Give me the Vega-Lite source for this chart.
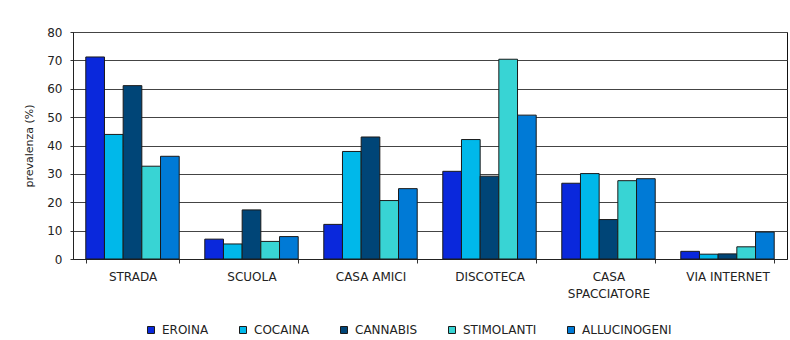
{
  "$schema": "https://vega.github.io/schema/vega-lite/v6.json",
  "width": 714,
  "height": 227,
  "autosize": "none",
  "padding": {"left": 73, "top": 32, "right": 3, "bottom": 81},
  "background": "white",
  "data": {
    "values": [
      {"luogo": "STRADA", "sostanza": "EROINA", "v": 71.2},
      {"luogo": "STRADA", "sostanza": "COCAINA", "v": 43.9},
      {"luogo": "STRADA", "sostanza": "CANNABIS", "v": 61.1},
      {"luogo": "STRADA", "sostanza": "STIMOLANTI", "v": 32.7},
      {"luogo": "STRADA", "sostanza": "ALLUCINOGENI", "v": 36.2},
      {"luogo": "SCUOLA", "sostanza": "EROINA", "v": 7.0},
      {"luogo": "SCUOLA", "sostanza": "COCAINA", "v": 5.3},
      {"luogo": "SCUOLA", "sostanza": "CANNABIS", "v": 17.3},
      {"luogo": "SCUOLA", "sostanza": "STIMOLANTI", "v": 6.2},
      {"luogo": "SCUOLA", "sostanza": "ALLUCINOGENI", "v": 7.9},
      {"luogo": "CASA AMICI", "sostanza": "EROINA", "v": 12.2},
      {"luogo": "CASA AMICI", "sostanza": "COCAINA", "v": 37.9},
      {"luogo": "CASA AMICI", "sostanza": "CANNABIS", "v": 43.0},
      {"luogo": "CASA AMICI", "sostanza": "STIMOLANTI", "v": 20.6},
      {"luogo": "CASA AMICI", "sostanza": "ALLUCINOGENI", "v": 24.8},
      {"luogo": "DISCOTECA", "sostanza": "EROINA", "v": 30.9},
      {"luogo": "DISCOTECA", "sostanza": "COCAINA", "v": 42.1},
      {"luogo": "DISCOTECA", "sostanza": "CANNABIS", "v": 29.2},
      {"luogo": "DISCOTECA", "sostanza": "STIMOLANTI", "v": 70.4},
      {"luogo": "DISCOTECA", "sostanza": "ALLUCINOGENI", "v": 50.7},
      {"luogo": "CASA SPACCIATORE", "sostanza": "EROINA", "v": 26.7},
      {"luogo": "CASA SPACCIATORE", "sostanza": "COCAINA", "v": 30.1},
      {"luogo": "CASA SPACCIATORE", "sostanza": "CANNABIS", "v": 13.9},
      {"luogo": "CASA SPACCIATORE", "sostanza": "STIMOLANTI", "v": 27.6},
      {"luogo": "CASA SPACCIATORE", "sostanza": "ALLUCINOGENI", "v": 28.3},
      {"luogo": "VIA INTERNET", "sostanza": "EROINA", "v": 2.7},
      {"luogo": "VIA INTERNET", "sostanza": "COCAINA", "v": 1.7},
      {"luogo": "VIA INTERNET", "sostanza": "CANNABIS", "v": 1.8},
      {"luogo": "VIA INTERNET", "sostanza": "STIMOLANTI", "v": 4.3},
      {"luogo": "VIA INTERNET", "sostanza": "ALLUCINOGENI", "v": 9.5}
    ]
  },
  "mark": {"type": "bar", "stroke": "#1a1a1a", "strokeWidth": 1},
  "encoding": {
    "x": {
      "field": "luogo",
      "type": "nominal",
      "sort": ["STRADA", "SCUOLA", "CASA AMICI", "DISCOTECA", "CASA SPACCIATORE", "VIA INTERNET"],
      "scale": {"paddingInner": 0.215, "paddingOuter": 0.1075},
      "axis": {
        "title": null,
        "labelAngle": 0,
        "labelExpr": "datum.value == 'CASA SPACCIATORE' ? ['CASA', 'SPACCIATORE'] : datum.value",
        "tickBand": "extent",
        "tickSize": 4,
        "tickColor": "#333",
        "domainColor": "#222",
        "labelFont": "DejaVu Sans",
        "labelFontSize": 12,
        "labelColor": "#222",
        "labelPadding": 8,
        "labelLineHeight": 17
      }
    },
    "xOffset": {
      "field": "sostanza",
      "type": "nominal",
      "sort": ["EROINA", "COCAINA", "CANNABIS", "STIMOLANTI", "ALLUCINOGENI"],
      "scale": {"paddingInner": 0, "paddingOuter": 0}
    },
    "y": {
      "field": "v",
      "type": "quantitative",
      "scale": {"domain": [0, 80]},
      "axis": {
        "title": "prevalenza (%)",
        "titleFont": "DejaVu Sans",
        "titleFontSize": 11,
        "titleFontWeight": "normal",
        "titleColor": "#222",
        "titlePadding": 12,
        "values": [0, 10, 20, 30, 40, 50, 60, 70, 80],
        "tickSize": 3,
        "tickColor": "#333",
        "domainColor": "#222",
        "labelFont": "DejaVu Sans",
        "labelFontSize": 12,
        "labelColor": "#222",
        "labelPadding": 8,
        "grid": true,
        "gridColor": "#444",
        "gridWidth": 1
      }
    },
    "color": {
      "field": "sostanza",
      "type": "nominal",
      "sort": ["EROINA", "COCAINA", "CANNABIS", "STIMOLANTI", "ALLUCINOGENI"],
      "scale": {
        "domain": ["EROINA", "COCAINA", "CANNABIS", "STIMOLANTI", "ALLUCINOGENI"],
        "range": ["#0a28dc", "#00b8ea", "#004577", "#38d4d4", "#007ad6"]
      },
      "legend": {
        "title": null,
        "orient": "none",
        "direction": "horizontal",
        "legendX": 72,
        "legendY": 292,
        "symbolType": "square",
        "symbolSize": 49,
        "symbolStrokeColor": "#1a1a1a",
        "symbolStrokeWidth": 1,
        "symbolOpacity": 1,
        "labelFont": "DejaVu Sans",
        "labelFontSize": 12,
        "labelColor": "#222",
        "labelOffset": 5,
        "columnPadding": 28
      }
    }
  },
  "config": {
    "view": {"stroke": "#111", "strokeWidth": 1},
    "axis": {"domainWidth": 1}
  }
}
